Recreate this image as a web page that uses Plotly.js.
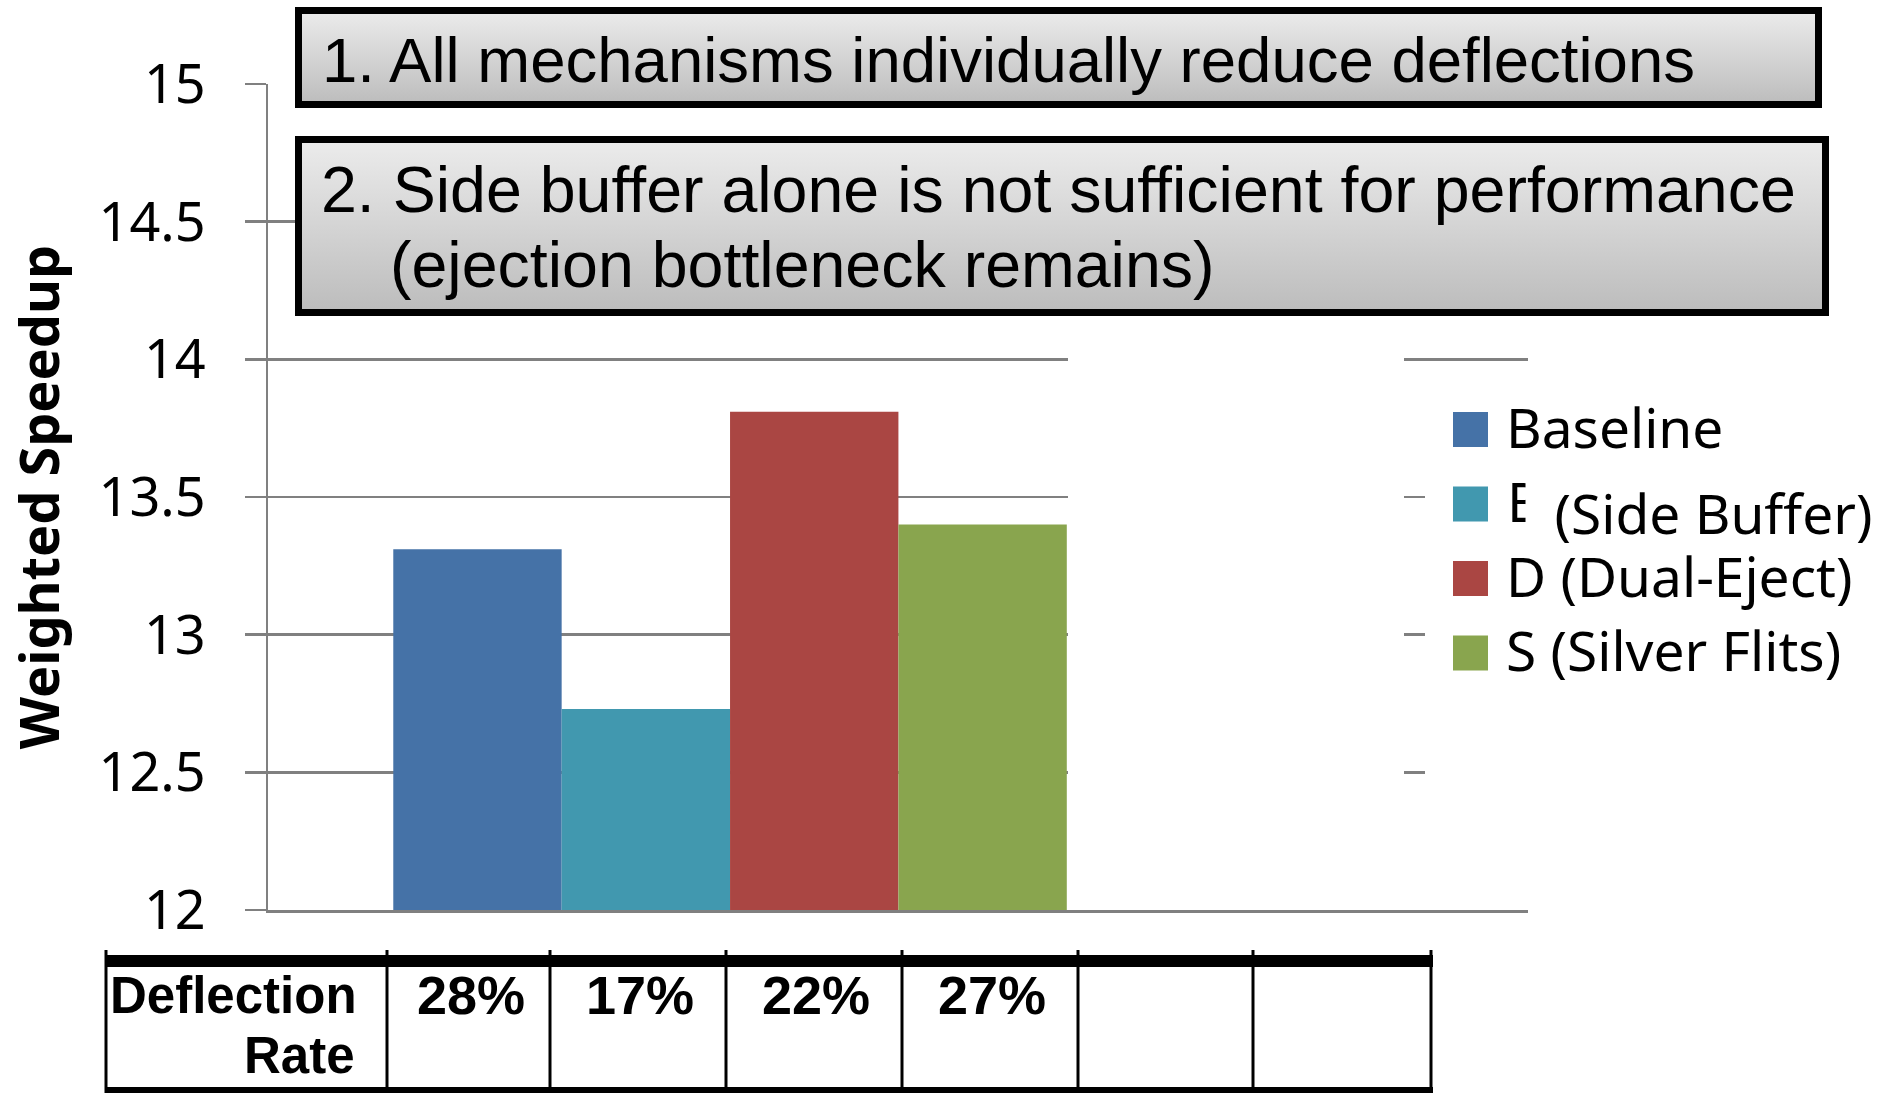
<!DOCTYPE html>
<html>
<head>
<meta charset="utf-8">
<script src="https://cdn.plot.ly/plotly-3.0.1.min.js"></script>
<style>html,body{margin:0;padding:0;background:#fff;}#chart{width:1887px;height:1093px;}</style>
</head>
<body>
<div id="chart"></div>
<script>
// ---------- data ----------
const category = ['Weighted Speedup'];
const seriesNames = ['Baseline', 'B (Side Buffer)', 'D (Dual-Eject)', 'S (Silver Flits)'];
const speedup = [13.31, 12.73, 13.81, 13.40];
const deflectionRate = [28, 17, 22, 27];
const yTickValues = [12, 12.5, 13, 13.5, 14, 14.5, 15];
const yTickLabels = ['12', '12.5', '13', '13.5', '14', '14.5', '15'];
const tableHeader = ['Deflection', 'Rate'];
const notes = [
  '1. All mechanisms individually reduce deflections',
  '2. Side buffer alone is not sufficient for performance',
  '(ejection bottleneck remains)'
];

// ---------- styles ----------
const colors = ['#4572A7', '#4198AF', '#AA4643', '#89A54E'];
const GRAY = '#808080';
const W = 1887, H = 1093;
const PL = 268, PR = 1528, PT = 84, PB = 910;
const X = px => (px - PL) / (PR - PL);
const Y = py => (PB - py) / (PB - PT);

const traces = seriesNames.map((n, i) => ({
  type: 'bar', x: category, y: [speedup[i]], name: n,
  marker: {color: colors[i], line: {width: 0}}, showlegend: false, hoverinfo: 'name+y'
}));

const shapes = [];
const annotations = [];
const images = [];

// white covers (the original chart has blanked areas over the gridlines)
shapes.push({type: 'rect', xref: 'paper', yref: 'paper', x0: X(1068), x1: X(1404), y0: Y(896), y1: Y(320),
  fillcolor: '#ffffff', line: {width: 0}, layer: 'above'});
shapes.push({type: 'rect', xref: 'paper', yref: 'paper', x0: X(1425), x1: X(1560), y0: Y(896), y1: Y(385),
  fillcolor: '#ffffff', line: {width: 0}, layer: 'above'});

// note boxes with gradient fill
const gradSvg = "<svg xmlns='http://www.w3.org/2000/svg' width='100' height='100' viewBox='0 0 100 100' preserveAspectRatio='none'>" +
  "<defs><linearGradient id='g' x1='0' y1='0' x2='0' y2='1'><stop offset='0' stop-color='#ececec'/>" +
  "<stop offset='1' stop-color='#bcbcbc'/></linearGradient></defs><rect width='100' height='100' fill='url(#g)'/></svg>";
const gradSrc = 'data:image/svg+xml;base64,' + btoa(gradSvg);
const boxes = [[298.5, 1818.5, 10.5, 104.5], [298.5, 1825.5, 139.5, 312.5]];
boxes.forEach(b => {
  images.push({source: gradSrc, xref: 'paper', yref: 'paper', x: X(b[0]), y: Y(b[2]),
    sizex: X(b[1]) - X(b[0]), sizey: Y(b[2]) - Y(b[3]), sizing: 'stretch',
    xanchor: 'left', yanchor: 'top', layer: 'above'});
  shapes.push({type: 'rect', xref: 'paper', yref: 'paper', x0: X(b[0]), x1: X(b[1]), y0: Y(b[3]), y1: Y(b[2]),
    line: {color: '#000', width: 7}, fillcolor: 'rgba(0,0,0,0)', layer: 'above'});
});
const noteFam = 'Liberation Sans, Arial, sans-serif';
[[notes[0], 321, 60, 63.5], [notes[1], 320, 190, 64.5], [notes[2], 389, 265, 64.5]].forEach(a => {
  annotations.push({text: a[0], xref: 'paper', yref: 'paper', x: X(a[1]), y: Y(a[2]),
    xanchor: 'left', yanchor: 'middle', showarrow: false, borderpad: 0,
    font: {family: noteFam, size: a[3], color: '#000'}});
});

// legend (custom, large swatches)
const legFont = {family: 'Noto Sans, Open Sans, sans-serif', size: 55, color: '#000'};
seriesNames.forEach((n, i) => {
  const cy = 429.5 + i * 74.5;
  shapes.push({type: 'rect', xref: 'paper', yref: 'paper', x0: X(1453), x1: X(1488), y0: Y(cy + 17.5), y1: Y(cy - 17.5),
    fillcolor: colors[i], line: {width: 0}, layer: 'above'});
  if (i === 1) {
    const sp = n.indexOf(' ');
    annotations.push({text: n.slice(0, sp), xref: 'paper', yref: 'paper', x: X(1506), y: Y(cy - 3.5),
      xanchor: 'left', yanchor: 'middle', showarrow: false, borderpad: 0, font: legFont});
    annotations.push({text: '\u00a0\u00a0' + n.slice(sp + 1), xref: 'paper', yref: 'paper', x: X(1525), y: Y(cy + 8),
      xanchor: 'left', yanchor: 'middle', showarrow: false, borderpad: 0, bgcolor: '#ffffff', font: legFont});
  } else {
    annotations.push({text: n, xref: 'paper', yref: 'paper', x: X(1505), y: Y(cy - 3.5),
      xanchor: 'left', yanchor: 'middle', showarrow: false, borderpad: 0, font: legFont});
  }
});

// data table under the chart
const colEdges = [106, 387, 550, 726, 902, 1078, 1253, 1431];
shapes.push({type: 'rect', xref: 'paper', yref: 'paper', x0: X(106), x1: X(1433), y0: Y(967), y1: Y(955),
  fillcolor: '#000', line: {width: 0}, layer: 'above'});
shapes.push({type: 'rect', xref: 'paper', yref: 'paper', x0: X(106), x1: X(1433), y0: Y(1096), y1: Y(1087),
  fillcolor: '#000', line: {width: 0}, layer: 'above'});
colEdges.forEach(e => {
  shapes.push({type: 'line', xref: 'paper', yref: 'paper', x0: X(e), x1: X(e), y0: Y(1093), y1: Y(950),
    line: {color: '#000', width: 3}, layer: 'above'});
});
const tabFam = 'Liberation Sans, Arial, sans-serif';
const tabFont = {family: tabFam, size: 51, color: '#000', weight: 'bold'};
annotations.push({text: tableHeader[0], xref: 'paper', yref: 'paper', x: X(358), y: Y(995),
  xanchor: 'right', yanchor: 'middle', showarrow: false, borderpad: 0, font: tabFont});
annotations.push({text: tableHeader[1], xref: 'paper', yref: 'paper', x: X(356), y: Y(1055),
  xanchor: 'right', yanchor: 'middle', showarrow: false, borderpad: 0, font: tabFont});
deflectionRate.forEach((v, i) => {
  const cx = (colEdges[i + 1] + colEdges[i + 2]) / 2 + 2;
  annotations.push({text: v + '%', xref: 'paper', yref: 'paper', x: X(cx), y: Y(995),
    xanchor: 'center', yanchor: 'middle', showarrow: false, borderpad: 0,
    font: {family: tabFam, size: 54, color: '#000', weight: 'bold'}});
});

const layout = {
  width: W, height: H, autosize: false,
  margin: {l: PL, r: W - PR, t: PT, b: H - PB, pad: 0},
  paper_bgcolor: '#ffffff', plot_bgcolor: '#ffffff',
  barmode: 'group', bargap: 0.2, bargroupgap: 0,
  showlegend: false,
  xaxis: {type: 'category', range: [-0.5488, 0.9478], showticklabels: false, ticks: '',
    showline: true, linecolor: GRAY, linewidth: 2.5, showgrid: false, zeroline: false, fixedrange: true},
  yaxis: {range: [12, 15], tickvals: yTickValues, ticktext: yTickLabels, ticks: 'outside', ticklen: 21,
    tickwidth: 2.5, tickcolor: GRAY, showline: true, linecolor: GRAY, linewidth: 2.5,
    showgrid: true, gridcolor: GRAY, gridwidth: 2.5, zeroline: false, fixedrange: true,
    ticklabelstandoff: 28,
    tickfont: {family: 'Noto Sans, Open Sans, sans-serif', size: 54, color: '#000'},
    title: {text: 'Weighted Speedup', standoff: 22,
      font: {family: 'Noto Sans, Open Sans, sans-serif', size: 54, color: '#000', weight: 'bold'}}},
  shapes: shapes, annotations: annotations, images: images
};

Plotly.newPlot('chart', traces, layout, {displayModeBar: false, staticPlot: true});
</script>
</body>
</html>
